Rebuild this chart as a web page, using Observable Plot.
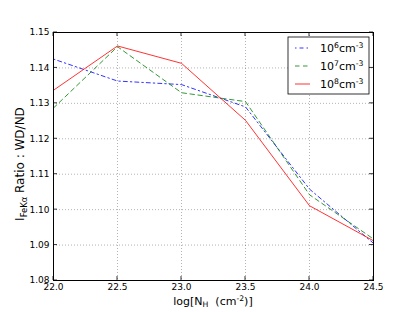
<!DOCTYPE html>
<html><head><meta charset="utf-8">
<script src="https://cdn.jsdelivr.net/npm/d3@7"></script>
<script src="https://cdn.jsdelivr.net/npm/@observablehq/plot@0.6"></script>
<style>
html,body{margin:0;padding:0;background:#fff;}
svg{font-family:"DejaVu Sans",sans-serif;}
</style></head>
<body><div id="chart"></div>
<script>
const logNH = [22.0, 22.5, 23.0, 23.5, 24.0, 24.5];
const ratio1e6 = [1.1425, 1.1363, 1.1353, 1.1290, 1.1058, 1.0905];
const ratio1e7 = [1.1287, 1.1460, 1.1330, 1.1305, 1.1042, 1.0917];
const ratio1e8 = [1.1337, 1.1462, 1.1413, 1.1252, 1.1011, 1.0912];
const seriesExp = ["6", "7", "8"];
const xTicks = [22.0, 22.5, 23.0, 23.5, 24.0, 24.5];
const yTicks = [1.08, 1.09, 1.10, 1.11, 1.12, 1.13, 1.14, 1.15];

const styles = {
  "6": {stroke: "#0000ff", dash: "1.5,3,4,3"},
  "7": {stroke: "#008000", dash: "4.5,3.5"},
  "8": {stroke: "#ff0000", dash: null}
};
const allSeries = [ratio1e6, ratio1e7, ratio1e8];
const data = [];
seriesExp.forEach((e, i) => logNH.forEach((x, j) => data.push({x, y: allSeries[i][j], s: e})));

const fs = 9;
const lfx = 11;
const lfy = 12;
const lineMarks = seriesExp.map(e => Plot.line(data.filter(d => d.s === e), {
  x: "x", y: "y", stroke: styles[e].stroke, strokeWidth: 1, strokeOpacity: 0.8,
  strokeDasharray: styles[e].dash
}));

const plot = Plot.plot({
  width: 415, height: 312,
  marginLeft: 53, marginRight: 42, marginTop: 32, marginBottom: 32,
  style: {fontFamily: "DejaVu Sans, sans-serif", fontSize: fs + "px", background: "#fff"},
  x: {domain: [22.0, 24.5], ticks: xTicks, tickFormat: d3.format(".1f"), label: null},
  y: {domain: [1.08, 1.15], ticks: yTicks, tickFormat: d3.format(".2f"), label: null},
  marks: [
    Plot.gridX(xTicks, {stroke: "#000", strokeOpacity: 0.5, strokeWidth: 0.6, strokeDasharray: "1,2"}),
    Plot.gridY(yTicks, {stroke: "#000", strokeOpacity: 0.5, strokeWidth: 0.6, strokeDasharray: "1,2"}),
    Plot.axisX(xTicks, {tickSize: 0, tickPadding: 3, fill: "#000", fontSize: fs, tickFormat: d3.format(".1f")}),
    Plot.axisY(yTicks, {tickSize: 0, tickPadding: 4, fill: "#000", fontSize: fs, tickFormat: d3.format(".2f")}),
    ...lineMarks,
    Plot.frame({stroke: "#000", strokeWidth: 1})
  ]
});

const svg = d3.select(plot);
const sx = plot.scale("x"), sy = plot.scale("y");
const x0 = sx.apply(22.0), x1 = sx.apply(24.5);
const y0 = sy.apply(1.08), y1 = sy.apply(1.15);
const tg = svg.append("g").attr("stroke", "#000").attr("stroke-width", 0.8);
xTicks.forEach(t => {
  const px = sx.apply(t);
  tg.append("line").attr("x1", px).attr("x2", px).attr("y1", y0).attr("y2", y0 - 4);
  tg.append("line").attr("x1", px).attr("x2", px).attr("y1", y1).attr("y2", y1 + 4);
});
yTicks.forEach(t => {
  const py = sy.apply(t);
  tg.append("line").attr("x1", x0).attr("x2", x0 + 4).attr("y1", py).attr("y2", py);
  tg.append("line").attr("x1", x1).attr("x2", x1 - 4).attr("y1", py).attr("y2", py);
});

// x axis label
const xl = svg.append("text").attr("x", (x0 + x1) / 2).attr("y", 305)
  .attr("text-anchor", "middle").attr("font-size", lfx).attr("fill", "#000");
xl.append("tspan").text("log[N");
xl.append("tspan").attr("font-size", lfx * 0.7).attr("dy", 2).text("H");
xl.append("tspan").attr("dy", -2).text("  (cm");
xl.append("tspan").attr("font-size", lfx * 0.7).attr("dy", -4).text("-2");
xl.append("tspan").attr("dy", 4).text(")]");

// y axis label
const yl = svg.append("text").attr("transform", `translate(24,${(y0 + y1) / 2 + 8}) rotate(-90)`)
  .attr("text-anchor", "middle").attr("font-size", lfy).attr("fill", "#000");
yl.append("tspan").text("I");
yl.append("tspan").attr("font-size", lfy * 0.7).attr("dy", 2.5).text("FeKα");
yl.append("tspan").attr("dy", -2.5).text(" Ratio : WD/ND");

// legend
const lg = svg.append("g").attr("text-anchor", "start");
lg.append("rect").attr("x", 288).attr("y", 37).attr("width", 81).attr("height", 57)
  .attr("fill", "#fff").attr("stroke", "#000").attr("stroke-width", 0.8);
seriesExp.forEach((e, i) => {
  const cy = 48 + i * 18;
  lg.append("line").attr("x1", 295).attr("x2", 310).attr("y1", cy).attr("y2", cy)
    .attr("stroke", styles[e].stroke).attr("stroke-opacity", 0.8).attr("stroke-width", 1)
    .attr("stroke-dasharray", styles[e].dash);
  const t = lg.append("text").attr("x", 320).attr("y", cy + 4).attr("font-size", lfx).attr("fill", "#000");
  t.append("tspan").text("10");
  t.append("tspan").attr("font-size", lfx * 0.7).attr("dy", -4).text(e);
  t.append("tspan").attr("dy", 4).text("cm");
  t.append("tspan").attr("font-size", lfx * 0.7).attr("dy", -4).text("-3");
});

document.getElementById("chart").appendChild(plot);
</script></body></html>
